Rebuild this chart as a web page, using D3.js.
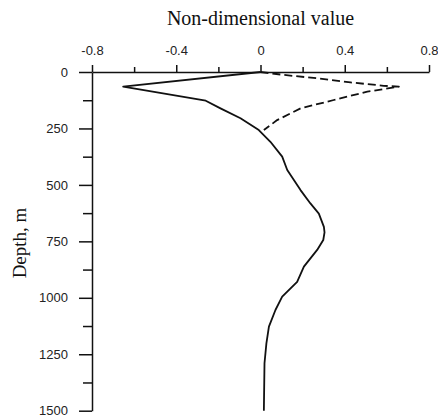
<!DOCTYPE html>
<html>
<head>
<meta charset="utf-8">
<script src="https://cdn.jsdelivr.net/npm/d3@7"></script>
<style>
  body { margin: 0; background: #fff; }
  .tick text { font-family: "Liberation Sans", Arial, sans-serif; font-size: 13px; fill: #222; }
  .axis path, .axis line { stroke: #111; stroke-width: 1.5px; }
  .title { font-family: "Liberation Serif", "Times New Roman", serif; fill: #111; }
  .line { fill: none; stroke: #111; stroke-width: 1.8px; stroke-linejoin: round; }
</style>
</head>
<body>
<svg width="438" height="418"></svg>
<script>
// solid profile: value vs depth (m)
var solidValue = [0, -0.652, -0.26, -0.19, -0.095, -0.008, 0.047, 0.103, 0.127, 0.19, 0.237, 0.277, 0.301, 0.304, 0.298, 0.269, 0.206, 0.174, 0.103, 0.071, 0.040, 0.028, 0.019, 0.016];
var solidDepth = [0, 65, 127, 161, 205, 257, 309, 375, 434, 523, 582, 627, 686, 710, 744, 788, 862, 929, 995, 1054, 1128, 1202, 1290, 1500];

// dashed profile
var dashValue = [0, 0.111, 0.269, 0.427, 0.585, 0.657, 0.507, 0.348, 0.19, 0.079, 0.016];
var dashDepth = [0, 13, 28, 46, 61, 65, 87, 124, 161, 213, 257];

var xTicks = [-0.8, -0.4, 0, 0.4, 0.8];
var xMinor = [-0.6, -0.2, 0.2, 0.6];
var yTicks = [0, 250, 500, 750, 1000, 1250, 1500];
var yMinor = [125, 375, 625, 875, 1125, 1375];

var svg = d3.select("svg");

var x = d3.scaleLinear().domain([-0.8, 0.8]).range([92, 429]),
    y = d3.scaleLinear().domain([0, 1500]).range([72, 410.7]);

// plain hyphen for negatives, like the original
var fmt = function(d) { return d === 0 ? "0" : (d < 0 ? "-" : "") + Math.abs(d).toFixed(1); };

// x axis on top
svg.append("g")
    .attr("class", "axis")
    .attr("transform", "translate(0," + y(0) + ")")
    .call(d3.axisTop(x).tickValues(xTicks).tickFormat(fmt).tickSizeInner(7).tickSizeOuter(0).tickPadding(10));

svg.append("g")
    .attr("class", "axis")
    .attr("transform", "translate(0," + y(0) + ")")
    .call(d3.axisTop(x).tickValues(xMinor).tickFormat("").tickSizeInner(5).tickSizeOuter(0))
    .select(".domain").remove();

// y axis
svg.append("g")
    .attr("class", "axis")
    .attr("transform", "translate(" + x(-0.8) + ",0)")
    .call(d3.axisLeft(y).tickValues(yTicks).tickFormat(d3.format("d")).tickSizeInner(13).tickSizeOuter(0).tickPadding(11));

svg.append("g")
    .attr("class", "axis")
    .attr("transform", "translate(" + x(-0.8) + ",0)")
    .call(d3.axisLeft(y).tickValues(yMinor).tickFormat("").tickSizeInner(9).tickSizeOuter(0))
    .select(".domain").remove();

var line = d3.line()
    .x(function(d) { return x(d[0]); })
    .y(function(d) { return y(d[1]); });

svg.append("path")
    .attr("class", "line")
    .attr("d", line(d3.zip(solidValue, solidDepth)));

svg.append("path")
    .attr("class", "line")
    .attr("stroke-dasharray", "8,4")
    .attr("d", line(d3.zip(dashValue, dashDepth)));

// titles
svg.append("text")
    .attr("class", "title")
    .attr("x", x(0))
    .attr("y", 25)
    .style("font-size", "20px")
    .style("text-anchor", "middle")
    .text("Non-dimensional value");

svg.append("text")
    .attr("class", "title")
    .attr("transform", "translate(26," + 243 + ") rotate(-90)")
    .style("font-size", "19px")
    .style("text-anchor", "middle")
    .text("Depth, m");
</script>
</body>
</html>
